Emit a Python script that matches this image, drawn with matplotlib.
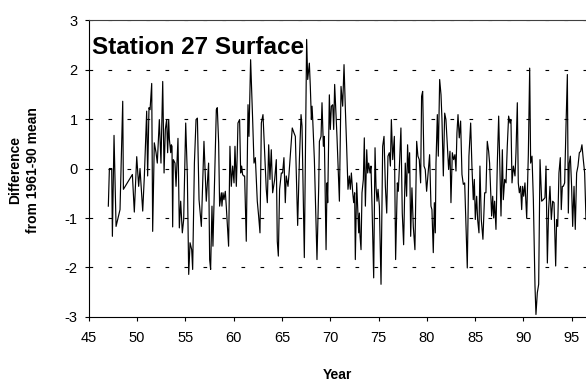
import matplotlib
matplotlib.use("Agg")
import matplotlib.pyplot as plt

plt.rcParams['font.family'] = ['Liberation Sans', 'DejaVu Sans']
plt.rcParams['axes.unicode_minus'] = False

# decimal year (19xx) of each traced vertex
years = [47.03, 47.14, 47.38, 47.45, 47.62, 47.83, 48.24, 48.52, 48.59, 49.52,
         49.72, 49.97, 50.17, 50.31, 50.59, 50.76, 51.00, 51.10, 51.24, 51.35,
         51.52, 51.62, 51.79, 51.97, 52.10, 52.31, 52.48, 52.66, 52.80, 52.93,
         53.07, 53.17, 53.28, 53.35, 53.49, 53.55, 53.62, 53.69, 53.76, 53.93,
         54.04, 54.24, 54.38, 54.52, 54.69, 54.83, 55.04, 55.21, 55.35, 55.49,
         55.66, 55.76, 55.94, 56.11, 56.25, 56.42,
         56.66, 56.93, 57.17, 57.41, 57.52, 57.62, 57.76, 57.86, 58.21, 58.31,
         58.45, 58.55, 58.73, 58.79, 58.90, 59.00, 59.14, 59.24, 59.48, 59.62,
         59.76, 59.90, 60.04, 60.14, 60.28, 60.38, 60.45, 60.62, 60.73, 60.83,
         60.93, 61.04, 61.14, 61.31, 61.49, 61.59, 61.76, 61.97, 62.11, 62.25,
         62.45, 62.59, 62.73, 62.87, 63.04, 63.21, 63.38, 63.49, 63.63, 63.76,
         63.90, 64.04, 64.25, 64.42, 64.52, 64.63, 64.76, 64.94, 65.07, 65.21,
         65.35, 65.45, 65.63, 65.73, 66.07, 66.25, 66.39,
         66.63, 66.81, 66.98, 67.08, 67.32, 67.56, 67.67, 67.84, 67.94, 68.05,
         68.12, 68.19, 68.36, 68.63, 68.81, 68.88, 69.05, 69.15, 69.29, 69.39,
         69.57, 69.67, 69.74, 69.91, 70.01, 70.12, 70.26, 70.36, 70.46, 70.60,
         70.70, 70.95, 71.12, 71.29, 71.43, 71.57, 71.70, 71.84, 71.98, 72.08,
         72.19, 72.33, 72.43, 72.53, 72.60, 72.74, 72.84, 72.95, 73.02, 73.09,
         73.19, 73.29, 73.43, 73.53, 73.64, 73.78, 73.88, 73.98, 74.12, 74.22,
         74.33, 74.50, 74.64, 74.74, 74.85, 74.95, 75.09, 75.26, 75.43, 75.57,
         75.71, 75.85, 75.98, 76.12, 76.23, 76.33, 76.47, 76.64,
         76.77, 76.95, 77.05, 77.15, 77.32, 77.46, 77.60, 77.77, 77.91, 78.01,
         78.12, 78.22, 78.33, 78.46, 78.60, 78.77, 78.95, 79.08, 79.22, 79.36,
         79.46, 79.57, 79.71, 79.84, 79.98, 80.15, 80.29, 80.43, 80.53, 80.67,
         80.78, 80.88, 80.95, 81.09, 81.19, 81.33, 81.47, 81.57, 81.71, 81.85,
         81.98, 82.12, 82.26, 82.40, 82.50, 82.64, 82.78, 82.91, 83.02, 83.12,
         83.23, 83.36, 83.50, 83.64, 83.78, 83.92, 84.19, 84.36, 84.54, 84.67,
         84.81, 84.92, 85.02, 85.16, 85.26, 85.40, 85.50, 85.64, 85.81, 85.99,
         86.12, 86.26, 86.40, 86.50,
         86.71, 86.82, 86.92, 87.02, 87.16, 87.30, 87.44, 87.58, 87.68, 87.82,
         87.92, 88.06, 88.20, 88.33, 88.47, 88.61, 88.71, 88.82, 88.96, 89.13,
         89.23, 89.37, 89.47, 89.58, 89.71, 89.82, 89.92, 90.03, 90.16, 90.34,
         90.51, 90.65, 90.75, 90.89, 91.03, 91.20, 91.30, 91.44, 91.58, 91.72,
         91.89, 92.06, 92.23, 92.34, 92.48, 92.61, 92.75, 92.89, 93.03, 93.17,
         93.34, 93.44, 93.55, 93.68, 93.82, 93.92, 94.03, 94.13, 94.27, 94.41,
         94.55, 94.65, 94.75, 94.86, 94.99, 95.10, 95.24, 95.37, 95.51, 95.65,
         95.79, 95.93, 96.06, 96.20, 96.34, 96.48]

# difference from the 1961-90 mean
diffs = [-0.76, 0.00, 0.00, -1.37, 0.67, -1.17, -0.83, 1.36, -0.42, -0.12,
         -0.88, 0.24, -0.36, 0.00, -0.86, -0.15, 1.16, -0.15, 1.23, 1.19,
         1.72, -1.27, 0.52, 0.32, 0.11, 0.99, 0.11, 1.76, -0.09, 0.79,
         0.99, 0.32, 0.99, 0.59, 0.32, 0.48, 0.45, -1.18, 0.18, 0.11,
         -0.36, 0.61, -1.20, -0.66, -1.30, -1.03, 0.92, -0.15, -2.14, -1.50,
         -1.64, -2.04, 0.11, 0.99, 1.02, -0.63,
         -1.17, 0.55, -0.66, 0.11, -1.84, -2.04, -0.76, -1.57, 1.19, 1.23,
         0.52, -0.76, -0.49, -0.76, -0.49, -0.63, -0.46, -0.76, -1.57, 0.45,
         -0.36, 0.05, -0.29, 0.45, -0.36, 0.32, 0.92, 0.99, -0.09, 0.05,
         -0.12, -0.15, -0.15, -1.47, 1.29, 0.65, 2.20, 0.99, 0.11, 0.22,
         -0.66, -0.96, -1.30, 0.92, 1.09, 0.32, -0.42, -0.69, 0.48, -0.22,
         0.38, -0.49, -0.22, 0.18, -1.47, -1.77, -0.42, -0.09, -0.09, 0.22,
         -0.69, -0.15, -0.36, -0.12, 0.82, 0.72, 0.65,
         -1.15, 0.18, 1.09, 0.86, -1.80, 2.61, 1.80, 2.13, 1.66, 0.99,
         1.26, 0.99, 0.18, -1.84, -0.36, 0.55, 0.65, 1.33, 0.45, 0.65,
         -1.64, -0.29, -0.69, 1.49, 0.79, 1.26, 1.29, 0.79, 1.70, 1.06,
         0.65, -0.66, 1.66, 1.26, 2.10, 1.19, 0.45, -0.42, -0.15, -0.42,
         -0.09, -0.49, -0.69, -0.49, -1.84, -0.29, -0.76, -1.30, -0.90, -1.37,
         -1.64, -0.49, -0.22, 0.62, -0.76, 0.38, -0.09, 0.11, -0.09, 0.05,
         -0.76, -2.21, 0.42, -0.36, -0.66, -0.42, -0.76, -2.34, 0.45, 0.65,
         -0.36, -0.90, 0.25, 0.32, 0.05, 0.99, 0.18, 0.65,
         -1.84, -0.29, -0.46, -0.02, 0.82, -0.90, -1.54, 0.11, -0.56, 0.48,
         -0.09, 0.32, -1.37, -0.39, -1.17, -1.64, 0.55, 0.25, 0.18, -0.29,
         1.46, 1.56, 0.05, -0.02, -0.46, -0.05, 0.28, -0.76, -0.83, -1.70,
         -0.69, -1.30, 0.11, 1.09, 0.25, 1.80, 1.49, 0.99, -0.15, 1.12,
         0.99, 0.48, -0.02, 0.35, -0.69, 0.32, 0.18, 0.28, -0.05, 0.72,
         1.09, 0.62, 0.96, -0.12, -0.32, -0.29, -2.01, 0.25, 0.92, 0.05,
         -0.63, -0.22, -1.03, -0.56, -1.03, -1.30, 0.05, -1.03, -1.43, -0.49,
         -0.49, 0.55, 0.35, 0.11,
         -0.96, -0.56, -1.00, -0.66, -1.23, 0.11, 1.06, -0.15, -0.96, 0.38,
         -0.63, -0.22, -0.29, 0.45, 1.06, 0.92, 0.99, -0.29, 0.05, -0.15,
         0.32, 1.33, -0.29, -0.49, -0.36, -0.83, -0.36, -0.56, -0.29, -1.00,
         0.28, 2.03, 0.11, 0.25, -0.63, -2.38, -2.95, -2.51, -2.34, 0.18,
         -0.66, -0.63, -0.59, 0.05, -1.91, -0.83, -0.36, -1.03, -0.66, -0.69,
         -1.97, -1.03, -1.17, -0.09, 0.22, -0.83, -0.36, -0.36, -0.29, 0.86,
         1.90, -0.90, 0.11, 0.25, -0.36, -1.17, -0.36, -1.23, -0.09, 0.05,
         0.32, 0.35, 0.48, 0.18, -0.09, -1.03]

xticks = [45, 50, 55, 60, 65, 70, 75, 80, 85, 90, 95]
yticks = [-3, -2, -1, 0, 1, 2, 3]

fig = plt.figure(figsize=(5.86, 3.87), dpi=100)
ax = fig.add_axes([0.1514, 0.181, 1 - 0.1514, 0.767])

for yv in yticks[1:]:
    ax.axhline(yv, color='black', lw=0.8, linestyle=(0, (3.3, 13.8)), zorder=1)

ax.plot(years, diffs, color='black', lw=0.85, zorder=3)

ax.set_xlim(45, 96.48)
ax.set_ylim(-3, 3)
ax.set_xticks(xticks)
ax.set_yticks(yticks)
ax.tick_params(direction='out', length=3, width=0.8, labelsize=10.5)
ax.tick_params(axis='x', pad=7)
ax.tick_params(axis='y', pad=5)

ax.spines['right'].set_visible(False)
ax.spines['top'].set_color('#404040')
ax.spines['top'].set_linewidth(0.8)
ax.spines['left'].set_linewidth(0.8)
ax.spines['bottom'].set_linewidth(0.8)

ax.text(0.007, 0.908, 'Station 27 Surface', transform=ax.transAxes,
        fontsize=17.5, fontweight='bold', ha='left', va='center', zorder=4)

ax.set_xlabel('Year', fontsize=10, fontweight='bold', labelpad=17)
fig.text(0.041, 0.56, 'Difference\nfrom 1961-90 mean', rotation=90,
         ha='center', va='center', fontsize=10, fontweight='bold',
         linespacing=1.3)

fig.savefig('out.png', dpi=100)
